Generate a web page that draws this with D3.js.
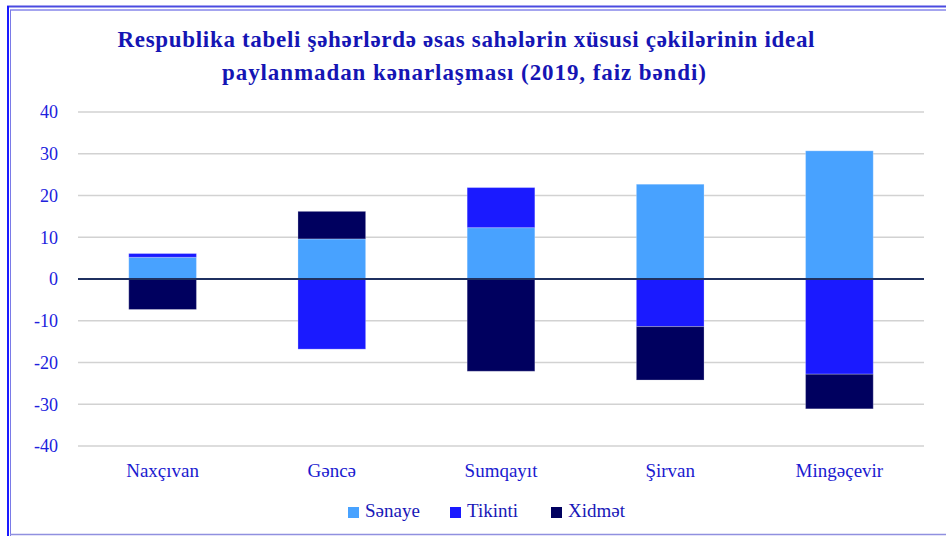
<!DOCTYPE html>
<html lang="az">
<head>
  <meta charset="utf-8">
  <title>Respublika tabeli şəhərlər</title>
  <script src="https://d3js.org/d3.v7.min.js"></script>
  <style>
    body { margin: 0; background: #fff; }
    svg text { font-family: "Liberation Serif", "DejaVu Serif", serif; }
    .title { font-size: 23px; font-weight: bold; fill: #1515b4; }
    .tick-label { font-size: 18px; fill: #2020dd; }
    .cat-label { font-size: 19px; fill: #1a1ad0; }
    .legend text { font-size: 19px; fill: #1818b8; }
  </style>
</head>
<body>
  <svg width="946" height="536"></svg>
  <script>
    // data
    var categories = ["Naxçıvan", "Gəncə", "Sumqayıt", "Şirvan", "Mingəçevir"];
    var series = ["Sənaye", "Tikinti", "Xidmət"];
    var senaye  = [5.2, 9.6, 12.3, 22.7, 30.7];
    var tikinti = [0.9, -16.8, 9.6, -11.4, -22.8];
    var xidmet  = [-7.3, 6.6, -22.1, -12.8, -8.3];
    var yTicks = [40, 30, 20, 10, 0, -10, -20, -30, -40];
    var colors = ["#48a2ff", "#1a1aff", "#00005f"];

    var rows = categories.map(function(c, i) {
      return { cat: c, "Sənaye": senaye[i], "Tikinti": tikinti[i], "Xidmət": xidmet[i] };
    });

    var svg = d3.select("svg");

    // frame
    svg.append("line").attr("x1", 7).attr("x2", 946).attr("y1", 6.5).attr("y2", 6.5)
      .attr("stroke", "#4a4ae0").attr("stroke-width", 2);
    svg.append("line").attr("x1", 10).attr("x2", 946).attr("y1", 10).attr("y2", 10)
      .attr("stroke", "#4a4ae0").attr("stroke-width", 1);
    svg.append("line").attr("x1", 8).attr("x2", 8).attr("y1", 6).attr("y2", 536)
      .attr("stroke", "#1a1aff").attr("stroke-width", 2);
    svg.append("line").attr("x1", 10.5).attr("x2", 10.5).attr("y1", 10).attr("y2", 536)
      .attr("stroke", "#7a7ae8").attr("stroke-width", 1);
    svg.append("line").attr("x1", 10).attr("x2", 946).attr("y1", 534.5).attr("y2", 534.5)
      .attr("stroke", "#9090e0").attr("stroke-width", 1.5);

    // title
    var title = svg.append("text").attr("class", "title").attr("text-anchor", "middle");
    title.append("tspan").attr("x", 466).attr("y", 47)
      .attr("textLength", 697).attr("lengthAdjust", "spacing")
      .text("Respublika tabeli şəhərlərdə əsas sahələrin xüsusi çəkilərinin ideal");
    title.append("tspan").attr("x", 464).attr("y", 80)
      .attr("textLength", 484).attr("lengthAdjust", "spacing")
      .text("paylanmadan kənarlaşması (2019, faiz bəndi)");

    var x = d3.scaleBand().domain(categories).range([78, 924])
      .paddingInner(0.6).paddingOuter(0.3);
    var y = d3.scaleLinear().domain([-40, 40]).range([446, 112]);

    // gridlines
    svg.append("g").selectAll("line")
      .data(yTicks.filter(function(d) { return d !== 0; }))
      .join("line")
        .attr("x1", 78).attr("x2", 924)
        .attr("y1", function(d) { return y(d); })
        .attr("y2", function(d) { return y(d); })
        .attr("stroke", "#d2d2d2").attr("stroke-width", 1.5);

    // tick labels
    svg.append("g").selectAll("text")
      .data(yTicks)
      .join("text")
        .attr("class", "tick-label")
        .attr("x", 58)
        .attr("y", function(d) { return y(d); })
        .attr("dy", "0.35em")
        .attr("text-anchor", "end")
        .text(function(d) { return d; });

    // stacked bars
    var stack = d3.stack().keys(series).offset(d3.stackOffsetDiverging);
    var layers = stack(rows);

    svg.append("g").selectAll("g")
      .data(layers)
      .join("g")
        .attr("fill", function(d, i) { return colors[i]; })
      .selectAll("rect")
      .data(function(d) { return d; })
      .join("rect")
        .attr("x", function(d) { return x(d.data.cat); })
        .attr("width", x.bandwidth())
        .attr("y", function(d) { return y(d[1]); })
        .attr("height", function(d) { return y(d[0]) - y(d[1]); })
        .attr("stroke", "#ffffff").attr("stroke-opacity", 0.25).attr("stroke-width", 1);

    // zero line
    svg.append("line")
      .attr("x1", 78).attr("x2", 924)
      .attr("y1", y(0)).attr("y2", y(0))
      .attr("stroke", "#1f3060").attr("stroke-width", 2);

    // category labels
    svg.append("g").selectAll("text")
      .data(categories)
      .join("text")
        .attr("class", "cat-label")
        .attr("x", function(d) { return x(d) + x.bandwidth() / 2; })
        .attr("y", 477)
        .attr("text-anchor", "middle")
        .text(function(d) { return d; });

    // legend
    var legendX = [348, 450, 551];
    var legend = svg.append("g").attr("class", "legend").selectAll("g")
      .data(series)
      .join("g")
        .attr("transform", function(d, i) { return "translate(" + legendX[i] + ",507)"; });
    legend.append("rect").attr("width", 11).attr("height", 11)
      .attr("fill", function(d, i) { return colors[i]; });
    legend.append("text").attr("x", 17).attr("y", 10).text(function(d) { return d; });
  </script>
</body>
</html>
